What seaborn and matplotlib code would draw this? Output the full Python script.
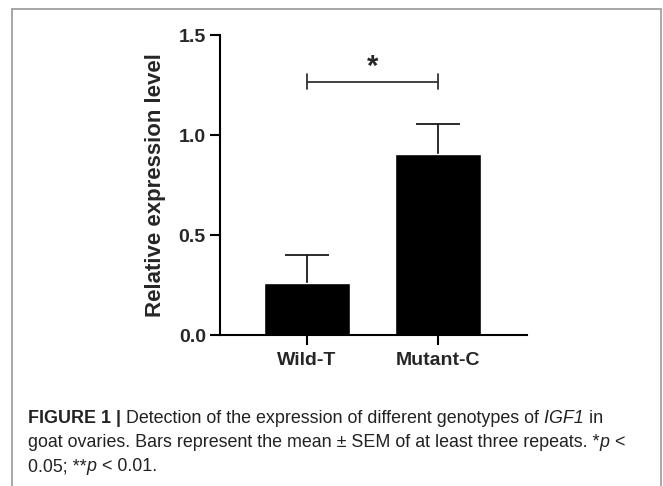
import matplotlib
matplotlib.use("Agg")
import matplotlib.pyplot as plt
from matplotlib.lines import Line2D
import numpy as np
import seaborn as sns

# data
groups = ["Wild-T", "Mutant-C"]
means = [0.26, 0.905]
sems = [0.14, 0.15]
sig_pair = (0, 1)
sig_level = 1.267
sig_label = "*"
yticks = [0.0, 0.5, 1.0, 1.5]

# caption, one list of (text, style) pieces per line
caption = [
    [("FIGURE 1 |", "bold"),
     (" Detection of the expression of different genotypes of", "normal"),
     (" IGF1", "italic"), (" in", "normal")],
    [("goat ovaries. Bars represent the mean ± SEM of at least three repeats. *", "normal"),
     ("p", "italic"), (" <", "normal")],
    [("0.05; **", "normal"), ("p", "italic"), (" < 0.01.", "normal")],
]

sns.set_style("ticks")
plt.rcParams["font.family"] = ["Liberation Sans", "DejaVu Sans"]

fig = plt.figure(figsize=(6.63, 4.86), dpi=100)
ax = fig.add_axes([220 / 663, 1 - 335 / 486, 307 / 663, 300 / 486])

sns.barplot(x=groups, y=means, color="black", saturation=1, width=0.656,
            errorbar=None, ax=ax, zorder=2)
# upper-only SEM bars, GraphPad style
_, caplines, _ = ax.errorbar(x=range(len(groups)), y=means,
                             yerr=[[0] * len(sems), sems], fmt="none",
                             ecolor="#1a1a1a", elinewidth=1.3, capsize=16,
                             capthick=1.3, zorder=1)
for cl in caplines:
    if np.allclose(cl.get_ydata(), means):
        cl.set_visible(False)

# significance bracket
x0, x1 = sig_pair
ax.plot([x0, x1], [sig_level, sig_level], color="#333333", lw=1.3, clip_on=False)
for xx in (x0, x1):
    ax.plot([xx, xx], [sig_level - 0.037, sig_level + 0.037], color="#333333",
            lw=1.3, clip_on=False)
ax.text((x0 + x1) / 2, 1.30, sig_label, ha="center", va="baseline",
        fontsize=21, fontweight="bold")

ax.set_xlim(-0.664, 1.679)
ax.set_ylim(0, 1.5)
ax.set_yticks(yticks)
ax.set_yticklabels([f"{t:.1f}" for t in yticks])
ax.set_ylabel("Relative expression level", fontsize=16, fontweight="bold",
              labelpad=9)
ax.set_xlabel("")
for lab in ax.get_xticklabels() + ax.get_yticklabels():
    lab.set_fontweight("bold")
ax.tick_params(axis="both", length=7.2, width=1.5, labelsize=14, color="black")
ax.tick_params(axis="y", pad=3)
ax.tick_params(axis="x", pad=5)
sns.despine(ax=ax)
for sp in ("left", "bottom"):
    ax.spines[sp].set_linewidth(1.5)
    ax.spines[sp].set_color("black")

# panel frame (open at the bottom)
fc = "#a0a0a0"
fig.add_artist(Line2D([12 / 663, 12 / 663], [0, 1 - 9 / 486], color=fc, lw=1.3))
fig.add_artist(Line2D([661 / 663, 661 / 663], [0, 1 - 9 / 486], color=fc, lw=1.3))
fig.add_artist(Line2D([12 / 663, 661 / 663], [1 - 9 / 486, 1 - 9 / 486], color=fc, lw=1.3))

cap_kw = dict(fontsize=12.9, color="#222222")
for i, pieces in enumerate(caption):
    prev = None
    for txt, style in pieces:
        kw = dict(cap_kw)
        if style == "bold":
            kw["fontweight"] = "bold"
        elif style == "italic":
            kw["fontstyle"] = "italic"
        if prev is None:
            prev = fig.text(28 / 663, 1 - (427 + 24 * i) / 486, txt,
                            ha="left", va="bottom", **kw)
        else:
            prev = ax.annotate(txt, xy=(1, 0), xycoords=prev, ha="left",
                               va="bottom", annotation_clip=False, **kw)

fig.savefig("out.png", dpi=100)
